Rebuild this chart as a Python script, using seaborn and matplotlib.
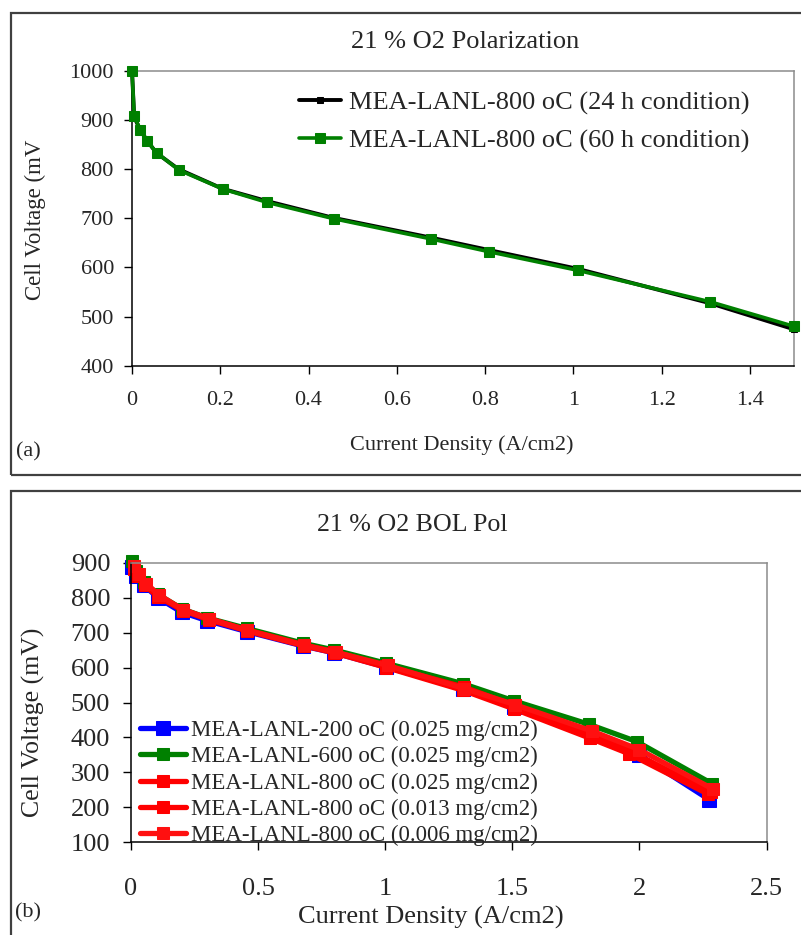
import matplotlib
matplotlib.use("Agg")
import matplotlib.pyplot as plt
import matplotlib.patches as mpatches
import seaborn as sns

sns.set_style("ticks")
plt.rcParams['font.family'] = ['Liberation Serif', 'DejaVu Serif']

# ---------------- Panel (a) data ----------------
a_title = "21 % O2 Polarization"
a_xlabel = "Current Density (A/cm2)"
a_ylabel = "Cell Voltage (mV"
a_xticks = [0, 0.2, 0.4, 0.6, 0.8, 1.0, 1.2, 1.4]
a_xticklabels = ["0", "0.2", "0.4", "0.6", "0.8", "1", "1.2", "1.4"]
a_yticks = [400, 500, 600, 700, 800, 900, 1000]

a24_label = "MEA-LANL-800 oC (24 h condition)"
a24_x = [0, 0.005, 0.02, 0.035, 0.055, 0.105, 0.205, 0.305, 0.455, 0.68, 0.81, 1.01, 1.31, 1.5]
a24_y = [1000, 905, 878, 857, 833, 800, 760, 735, 701, 660, 635, 597, 527, 474]

a60_label = "MEA-LANL-800 oC (60 h condition)"
a60_x = [0, 0.005, 0.019, 0.033, 0.056, 0.106, 0.207, 0.307, 0.457, 0.677, 0.808, 1.01, 1.31, 1.5]
a60_y = [1000, 908, 879, 858, 833, 798, 759, 732, 699, 658, 632, 594, 530, 480]

# ---------------- Panel (b) data ----------------
b_title = "21 % O2 BOL Pol"
b_xlabel = "Current Density (A/cm2)"
b_ylabel = "Cell Voltage (mV)"
b_xticks = [0, 0.5, 1.0, 1.5, 2.0, 2.5]
b_xticklabels = ["0", "0.5", "1", "1.5", "2", "2.5"]
b_yticks = [100, 200, 300, 400, 500, 600, 700, 800, 900]

b200_label = "MEA-LANL-200 oC (0.025 mg/cm2)"
b200_x = [0.005, 0.02, 0.05, 0.105, 0.2, 0.3, 0.455, 0.675, 0.8, 1.005, 1.305, 1.505, 1.81, 2.0, 2.275]
b200_y = [888, 862, 836, 800, 758, 734, 703, 662, 642, 601, 540, 488, 410, 350, 222]

b600_label = "MEA-LANL-600 oC (0.025 mg/cm2)"
b600_x = [0.003, 0.02, 0.05, 0.105, 0.2, 0.3, 0.455, 0.675, 0.8, 1.005, 1.305, 1.505, 1.8, 1.99, 2.285]
b600_y = [905, 875, 845, 810, 768, 742, 712, 670, 650, 612, 554, 505, 438, 388, 268]

b800a_label = "MEA-LANL-800 oC (0.025 mg/cm2)"
b800a_x = [0.01, 0.025, 0.055, 0.105, 0.205, 0.305, 0.455, 0.68, 0.8, 1.005, 1.31, 1.505, 1.81, 1.965, 2.28]
b800a_y = [887, 866, 838, 806, 766, 740, 708, 665, 645, 604, 544, 492, 410, 360, 245]

b800b_label = "MEA-LANL-800 oC (0.013 mg/cm2)"
b800b_x = [0.01, 0.025, 0.055, 0.105, 0.205, 0.305, 0.455, 0.68, 0.8, 1.005, 1.305, 1.505, 1.805, 1.96, 2.27]
b800b_y = [882, 862, 835, 803, 763, 737, 705, 662, 642, 600, 535, 482, 398, 353, 238]

b800c_label = "MEA-LANL-800 oC (0.006 mg/cm2)"
b800c_x = [0.012, 0.03, 0.06, 0.11, 0.205, 0.305, 0.455, 0.68, 0.805, 1.01, 1.31, 1.51, 1.815, 2.0, 2.29]
b800c_y = [890, 868, 840, 808, 765, 740, 707, 664, 644, 606, 540, 494, 418, 365, 252]

W, H = 801, 935
fig = plt.figure(figsize=(W / 100, H / 100), dpi=100)

def fx(px):
    return px / W

def fy(py):
    return 1 - py / H

# panel frames
for (x0, y0, x1, y1) in [(11, 13, 805, 475), (11, 491, 805, 940)]:
    fig.patches.append(mpatches.Rectangle((fx(x0), fy(y1)), fx(x1 - x0), (y1 - y0) / H,
                                          transform=fig.transFigure, fill=False,
                                          edgecolor='#404040', lw=1.6, clip_on=False))

def style_axes(ax):
    for s in ['left', 'bottom']:
        ax.spines[s].set_color('black')
        ax.spines[s].set_linewidth(1.1)
    for s in ['top', 'right']:
        ax.spines[s].set_color('#8c8c8c')
        ax.spines[s].set_linewidth(1.1)
    ax.spines['top'].set_visible(True)
    ax.spines['right'].set_visible(True)
    ax.tick_params(top=False, right=False, direction='out', length=6, width=1, color='black')

# ---------------- Panel (a) ----------------
axA = fig.add_axes([fx(132), fy(365.7), fx(794 - 132), (365.7 - 70.7) / H])
sns.lineplot(x=a24_x, y=a24_y, ax=axA, color='black', lw=2.8, marker='s', markersize=4,
             markeredgecolor='black', sort=False, estimator=None, label=a24_label, zorder=3)
sns.lineplot(x=a60_x, y=a60_y, ax=axA, color='#008000', lw=2.6, marker='s', markersize=7.5,
             markeredgecolor='#008000', sort=False, estimator=None, label=a60_label, zorder=4)
for ln in axA.lines:
    ln.set_clip_on(False)
axA.set_xlim(0, 1.5)
axA.set_ylim(400, 1000)
axA.set_xticks(a_xticks)
axA.set_xticklabels(a_xticklabels)
axA.set_yticks(a_yticks)
style_axes(axA)
axA.tick_params(axis='x', labelsize=16, pad=12)
axA.tick_params(axis='y', labelsize=16, pad=7)
axA.set_xlabel("")
axA.set_ylabel("")
fig.text(fx(465), fy(42), a_title, ha='center', va='center', fontsize=19)
fig.text(fx(462), fy(445), a_xlabel, ha='center', va='center', fontsize=16)
fig.text(fx(35), fy(220), a_ylabel, ha='center', va='center', fontsize=16.5, rotation=90)
fig.text(fx(28), fy(452), "(a)", ha='center', va='center', fontsize=16)
legA = axA.legend(loc='upper left', bbox_to_anchor=((299 - 132) / 662, (365.7 - 91) / 295),
                  frameon=False, fontsize=19, handlelength=1.6, handletextpad=0.3,
                  borderpad=0, borderaxespad=0, labelspacing=0.52)

# ---------------- Panel (b) ----------------
axB = fig.add_axes([fx(131), fy(842.3), fx(766.5 - 131), (842.3 - 562.7) / H])
b_series = [
    (b200_x, b200_y, b200_label, '#0000FF', 10.5),
    (b600_x, b600_y, b600_label, '#008000', 8.5),
    (b800a_x, b800a_y, b800a_label, '#FF0000', 9),
    (b800b_x, b800b_y, b800b_label, '#FF0000', 9),
    (b800c_x, b800c_y, b800c_label, '#FF1010', 9),
]
for xs, ys, lab, col, ms in b_series:
    sns.lineplot(x=xs, y=ys, ax=axB, color=col, lw=3.8, marker='s', markersize=ms,
                 markeredgecolor=col, sort=False, estimator=None, label=lab)
for ln in axB.lines:
    ln.set_clip_on(False)
axB.set_xlim(0, 2.5)
axB.set_ylim(100, 900)
axB.set_xticks(b_xticks)
axB.set_xticklabels(b_xticklabels)
axB.set_yticks(b_yticks)
style_axes(axB)
axB.tick_params(axis='x', labelsize=19, pad=20)
axB.tick_params(axis='y', labelsize=19, pad=9)
axB.set_xlabel("")
axB.set_ylabel("")
fig.text(fx(412), fy(525), b_title, ha='center', va='center', fontsize=18.7)
fig.text(fx(431), fy(917), b_xlabel, ha='center', va='center', fontsize=19)
fig.text(fx(33), fy(722), b_ylabel, ha='center', va='center', fontsize=18.5, rotation=90)
fig.text(fx(28), fy(913), "(b)", ha='center', va='center', fontsize=16)
legB = axB.legend(loc='upper left', bbox_to_anchor=((140 - 131) / 635.5, (842.3 - 720) / 279.6),
                  frameon=False, fontsize=16.5, handlelength=2.0, handletextpad=0.22,
                  borderpad=0, borderaxespad=0, labelspacing=0.22)

fig.savefig("out.png", dpi=100)
